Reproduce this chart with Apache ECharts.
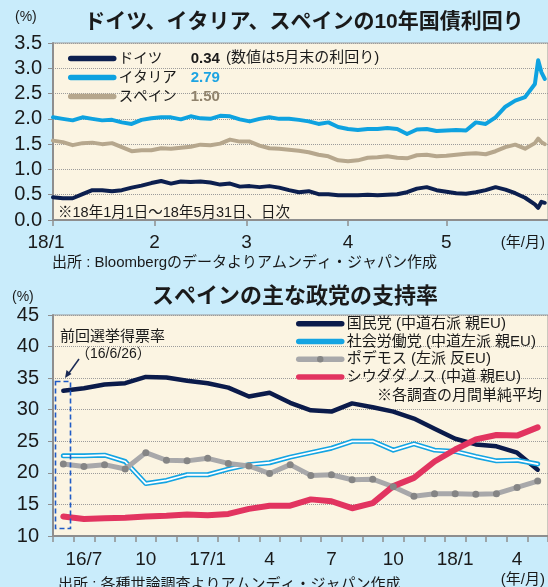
<!DOCTYPE html>
<html><head><meta charset="utf-8">
<script src="https://cdn.jsdelivr.net/npm/echarts@6/dist/echarts.min.js"></script>
<style>html,body{margin:0;padding:0;background:#c9ecfb;} #c{width:548px;height:587px;}</style>
</head><body><div id="c"></div>
<script>
const FONT = '"Liberation Sans","Noto Sans CJK JP",sans-serif';

// ---- Top chart: 10y government bond yields (2018/1/1 - 2018/5/31) ----
const yieldDates = ['2018-01-01','2018-01-04','2018-01-07','2018-01-10','2018-01-13','2018-01-16','2018-01-19','2018-01-22','2018-01-25','2018-01-28',
  '2018-01-31','2018-02-03','2018-02-06','2018-02-09','2018-02-12','2018-02-15','2018-02-18','2018-02-21','2018-02-24','2018-02-27',
  '2018-03-02','2018-03-05','2018-03-08','2018-03-11','2018-03-14','2018-03-17','2018-03-20','2018-03-23','2018-03-26','2018-03-29',
  '2018-04-01','2018-04-04','2018-04-07','2018-04-10','2018-04-13','2018-04-16','2018-04-19','2018-04-22','2018-04-25','2018-04-28',
  '2018-05-01','2018-05-04','2018-05-07','2018-05-10','2018-05-13','2018-05-16','2018-05-19','2018-05-22','2018-05-25','2018-05-28',
  '2018-05-29','2018-05-30','2018-05-31'];
const germany = [0.45,0.43,0.43,0.51,0.59,0.59,0.57,0.59,0.64,0.68,
  0.73,0.77,0.72,0.76,0.75,0.76,0.74,0.70,0.72,0.66,
  0.67,0.65,0.67,0.64,0.59,0.55,0.57,0.51,0.51,0.49,
  0.49,0.49,0.50,0.49,0.50,0.51,0.55,0.62,0.65,0.59,
  0.56,0.53,0.52,0.55,0.59,0.65,0.60,0.53,0.44,0.31,
  0.24,0.36,0.34];
const italy = [2.03,2.00,1.97,2.03,2.00,1.97,1.98,1.93,1.90,1.98,
  2.01,2.03,2.03,1.99,2.05,2.01,2.00,2.06,2.05,1.99,
  1.95,2.00,2.03,2.00,2.00,1.98,1.95,1.90,1.93,1.84,
  1.80,1.78,1.80,1.80,1.82,1.80,1.70,1.79,1.80,1.76,
  1.77,1.78,1.77,1.93,1.90,2.03,2.24,2.36,2.43,2.69,
  3.16,2.92,2.79];
const spain = [1.57,1.54,1.48,1.52,1.53,1.50,1.52,1.44,1.36,1.38,
  1.38,1.42,1.41,1.43,1.45,1.49,1.48,1.51,1.59,1.55,
  1.55,1.47,1.42,1.41,1.39,1.37,1.34,1.29,1.26,1.18,
  1.16,1.18,1.23,1.24,1.26,1.23,1.22,1.28,1.29,1.26,
  1.27,1.29,1.31,1.32,1.30,1.36,1.44,1.49,1.41,1.52,
  1.61,1.54,1.50];
const yieldNames = ['ドイツ','イタリア','スペイン'];

// ---- Bottom chart: Spanish party support (monthly averages) ----
const pollMonths = ['16/6','16/7','16/8','16/9','16/10','16/11','16/12',
  '17/1','17/2','17/3','17/4','17/5','17/6','17/7','17/8','17/9','17/10','17/11','17/12',
  '18/1','18/2','18/3','18/4','18/5'];
const pp      = [33.0,33.4,34.0,34.2,35.2,35.1,34.6,34.2,33.5,32.1,32.7,31.1,29.9,29.7,31.0,30.4,29.7,28.6,27.0,25.4,24.5,24.2,23.2,20.5];
const psoe    = [22.7,22.7,22.8,21.8,18.3,18.8,19.7,19.7,20.6,21.3,21.6,22.5,23.2,23.9,25.0,25.0,23.6,24.6,23.6,23.4,22.6,21.9,22.0,21.4];
const podemos = [21.4,21.0,21.3,20.6,23.2,22.0,21.9,22.3,21.5,21.1,19.9,21.3,19.6,19.7,18.9,19.0,17.8,16.3,16.7,16.7,16.6,16.7,17.7,18.7];
const cs      = [13.1,12.7,12.8,12.9,13.1,13.2,13.4,13.3,13.5,14.3,14.8,14.8,15.8,15.5,14.4,15.2,17.9,19.2,21.8,23.7,25.3,26.0,25.9,27.2];
const partyNames = ['国民党 (中道右派 親EU)','社会労働党 (中道左派 親EU)','ポデモス (左派 反EU)','シウダダノス (中道 親EU)'];

const C_DE = '#0c1f4f', C_IT = '#0ea2e0', C_ES = '#b6a78d';
const C_PP = '#0b1b4b', C_PSOE = '#14a4e2', C_POD = '#a8a8aa', C_POD_DOT = '#858585', C_CS = '#e23460';
const AXIS = '#8e8e8e', GRIDC = '#9c9c9c', CREAM = '#fbf4e2';
const NOSYM = {color: 'rgba(0,0,0,0)', borderWidth: 0};

const pairs = (vals) => yieldDates.map((d, i) => [d, vals[i]]);
const lastVals = [germany, italy, spain].map(a => a[a.length - 1]);

const chart = echarts.init(document.getElementById('c'), null, {renderer: 'canvas'});
const txt = (x, y, text, size, opts = {}) => ({
  type: 'text', z: 100,
  style: Object.assign({x, y, text, fontSize: size, fontFamily: FONT, fill: '#1a1a1a',
    align: opts.align || 'left', verticalAlign: 'middle', fontWeight: opts.bold ? 'bold' : 'normal'}, opts.style || {})
});

chart.setOption({
  animation: false,
  backgroundColor: '#c9ecfb',
  grid: [
    {left: 53, top: 43, width: 497, height: 177, show: true, backgroundColor: CREAM, borderColor: '#9a9a9a', borderWidth: 1},
    {left: 53, top: 315, width: 495, height: 221, show: true, backgroundColor: CREAM, borderColor: '#9a9a9a', borderWidth: 1}
  ],
  xAxis: [
    {type: 'time', gridIndex: 0,
     min: new Date(2018, 0, 1).getTime(), max: new Date(2018, 5, 1).getTime(),
     minInterval: 28 * 864e5, maxInterval: 31 * 864e5,
     axisLine: {lineStyle: {color: AXIS, width: 2}},
     axisTick: {show: true, length: 6, lineStyle: {color: AXIS, width: 1.5}},
     splitLine: {show: false},
     axisLabel: {fontSize: 19, color: '#1a1a1a', fontFamily: FONT, margin: 13, showMaxLabel: false,
       rich: {first: {fontSize: 19, fontFamily: FONT, color: '#1a1a1a', padding: [0, 14, 0, 0]}},
       formatter: (v) => { const d = new Date(v); const m = d.getMonth() + 1; return m === 1 ? '{first|18/1}' : (m === 6 ? '' : String(m)); }}},
    {type: 'category', gridIndex: 1, data: pollMonths, boundaryGap: true,
     axisLine: {lineStyle: {color: AXIS, width: 2}},
     axisTick: {show: true, interval: 0, length: 6, lineStyle: {color: AXIS, width: 1.5}},
     axisLabel: {fontSize: 19, color: '#1a1a1a', fontFamily: FONT, margin: 14,
       interval: (i) => i % 3 === 1,
       formatter: (v, i) => { const m = v.split('/')[1]; return (i === 1 || m === '1') ? v : m; }}}
  ],
  yAxis: [
    {type: 'value', gridIndex: 0, min: 0, max: 3.5, interval: 0.5,
     axisLine: {show: true, lineStyle: {color: AXIS, width: 2}},
     axisTick: {show: true, length: 5, lineStyle: {color: AXIS}},
     axisLabel: {fontSize: 20, color: '#1a1a1a', fontFamily: FONT, margin: 11, formatter: (v) => v.toFixed(1)},
     splitLine: {lineStyle: {type: 'dotted', color: GRIDC, width: 1}}},
    {type: 'value', gridIndex: 1, min: 10, max: 45, interval: 5,
     axisLine: {show: true, lineStyle: {color: AXIS, width: 2}},
     axisTick: {show: true, length: 5, lineStyle: {color: AXIS}},
     axisLabel: {fontSize: 20, color: '#1a1a1a', fontFamily: FONT, margin: 14},
     splitLine: {lineStyle: {type: 'dotted', color: GRIDC, width: 1}}}
  ],
  legend: [
    {orient: 'vertical', left: 63, top: 44, itemWidth: 43, itemHeight: 8, itemGap: 0, selectedMode: false,
     data: yieldNames.map(n => ({name: n, itemStyle: NOSYM})),
     lineStyle: {width: 5.5},
     formatter: (name) => { const i = yieldNames.indexOf(name); return '{n|' + name + '}{v' + i + '|' + lastVals[i].toFixed(2) + '}'; },
     textStyle: {fontFamily: FONT, fontSize: 14.5, color: '#1a1a1a', lineHeight: 19,
       rich: {n: {width: 72, fontSize: 14.5, lineHeight: 19, fontFamily: FONT, color: '#1a1a1a'},
              v0: {fontSize: 15, fontWeight: 'bold', color: '#1a1a1a', fontFamily: FONT, lineHeight: 19},
              v1: {fontSize: 15, fontWeight: 'bold', color: '#1ea4e2', fontFamily: FONT, lineHeight: 19},
              v2: {fontSize: 15, fontWeight: 'bold', color: '#8f826c', fontFamily: FONT, lineHeight: 19}}}},
    {orient: 'vertical', left: 291, top: 310, itemWidth: 43, itemHeight: 8, itemGap: 0, selectedMode: false,
     data: [{name: partyNames[0], itemStyle: NOSYM}, {name: partyNames[1], itemStyle: NOSYM},
            {name: partyNames[2]}, {name: partyNames[3], itemStyle: NOSYM}],
     lineStyle: {width: 5.5},
     textStyle: {fontFamily: FONT, fontSize: 15, color: '#1a1a1a', lineHeight: 17.7}}
  ],
  series: [
    {name: 'イタリア', type: 'line', xAxisIndex: 0, yAxisIndex: 0, data: pairs(italy), symbol: 'none', color: C_IT,
     lineStyle: {width: 4, color: C_IT, cap: 'round', join: 'round'}},
    {name: 'スペイン', type: 'line', xAxisIndex: 0, yAxisIndex: 0, data: pairs(spain), symbol: 'none', color: C_ES,
     lineStyle: {width: 4, color: C_ES, cap: 'round', join: 'round'}},
    {name: 'ドイツ', type: 'line', xAxisIndex: 0, yAxisIndex: 0, data: pairs(germany), symbol: 'none', color: C_DE,
     lineStyle: {width: 4, color: C_DE, cap: 'round', join: 'round'}},

    {name: partyNames[0], type: 'line', xAxisIndex: 1, yAxisIndex: 1, data: pp, symbol: 'none', color: C_PP,
     lineStyle: {width: 4.5, color: C_PP, cap: 'round', join: 'round'}},
    {name: partyNames[1], type: 'line', xAxisIndex: 1, yAxisIndex: 1, data: psoe, symbol: 'none', color: C_PSOE,
     lineStyle: {width: 5, color: C_PSOE, cap: 'round', join: 'round'}},
    {name: 'psoe-inner', type: 'line', xAxisIndex: 1, yAxisIndex: 1, data: psoe, symbol: 'none', color: '#ffffff',
     lineStyle: {width: 1.8, color: '#ffffff', cap: 'round', join: 'round'}, silent: true},
    {name: partyNames[2], type: 'line', xAxisIndex: 1, yAxisIndex: 1, data: podemos, symbol: 'circle', symbolSize: 7,
     showSymbol: true, color: C_POD_DOT, itemStyle: {color: C_POD_DOT, borderWidth: 0},
     lineStyle: {width: 5, color: C_POD, cap: 'round', join: 'round'}},
    {name: partyNames[3], type: 'line', xAxisIndex: 1, yAxisIndex: 1, data: cs, symbol: 'none', color: C_CS,
     lineStyle: {width: 6, color: C_CS, cap: 'round', join: 'round'}}
  ],
  graphic: [
    txt(15, 17, '(%)', 14),
    txt(304, 22, 'ドイツ、イタリア、スペインの10年国債利回り', 21, {align: 'center', bold: true}),
    txt(226, 58, '(数値は5月末の利回り)', 15),
    txt(58, 213, '※18年1月1日～18年5月31日、日次', 14.5),
    txt(545, 243, '(年/月)', 15, {align: 'right'}),
    txt(52, 263, '出所 : Bloombergのデータよりアムンディ・ジャパン作成', 15),

    txt(12, 297, '(%)', 14),
    txt(295, 297, 'スペインの主な政党の支持率', 22, {align: 'center', bold: true}),
    txt(60, 337, '前回選挙得票率', 15),
    txt(76, 354, '（16/6/26）', 14),
    txt(542, 396, '※各調査の月間単純平均', 15, {align: 'right'}),
    txt(545, 580, '(年/月)', 15, {align: 'right'}),
    txt(58, 585, '出所 : 各種世論調査よりアムンディ・ジャパン作成', 15),

    {type: 'rect', z: 90, shape: {x: 55.5, y: 381.5, width: 15, height: 147},
     style: {fill: 'none', stroke: '#1f5bc6', lineWidth: 1.6, lineDash: [5, 3]}},
    {type: 'line', z: 90, shape: {x1: 79, y1: 359, x2: 69, y2: 373},
     style: {stroke: '#1a2a55', lineWidth: 1.5}},
    {type: 'polygon', z: 90, shape: {points: [[65, 378], [66.5, 370], [71.5, 374]]},
     style: {fill: '#1a2a55'}}
  ]
});
</script>
</body></html>
